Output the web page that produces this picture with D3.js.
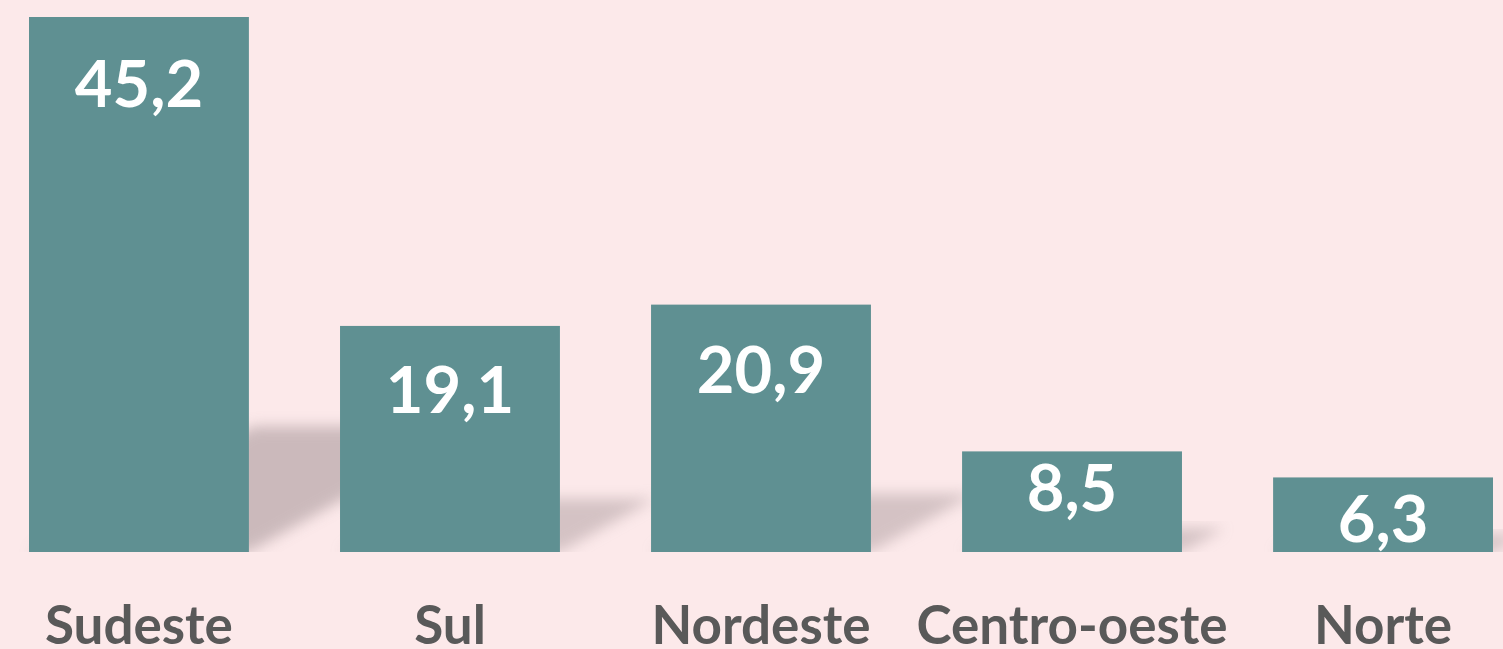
<!DOCTYPE html>
<html>
<head>
<meta charset="utf-8">
<script src="https://cdn.jsdelivr.net/npm/d3@7"></script>
<style>
  html, body { margin: 0; padding: 0; background: #fce9ea; }
  svg { display: block; }
</style>
</head>
<body>
<svg id="chart" width="1503" height="649"></svg>
<script>
// Data
const categories = ["Sudeste", "Sul", "Nordeste", "Centro-oeste", "Norte"];
const values = [45.2, 19.1, 20.9, 8.5, 6.3];
const valueLabels = ["45,2", "19,1", "20,9", "8,5", "6,3"];

// Layout (styles, not data)
const W = 1503, H = 649;
const baseY = 552, topY = 17;
const labelDrop = [90, 87, 88, 60, 65]; // baseline distance from bar top
const barColor = "#5f9092";
const shadowColor = "#bfaeb0";

const svg = d3.select("#chart");
svg.append("rect").attr("width", W).attr("height", H).attr("fill", "#fce9ea");

const x = d3.scaleBand().domain(categories).range([29, 1493]).paddingInner(0.293).paddingOuter(0);
const y = d3.scaleLinear().domain([0, 45.2]).range([baseY, topY]);

const defs = svg.append("defs");
defs.append("filter").attr("id", "blur").attr("x", "-20%").attr("y", "-30%").attr("width", "140%").attr("height", "160%")
  .append("feGaussianBlur").attr("stdDeviation", 7);
defs.append("clipPath").attr("id", "clipBase")
  .append("rect").attr("x", 0).attr("y", 0).attr("width", W).attr("height", baseY);

const data = categories.map((c, i) => ({ c, v: values[i], lbl: valueLabels[i], i }));

// Perspective shadows
const sh = svg.append("g").attr("clip-path", "url(#clipBase)");
sh.selectAll("path").data(data).join("path")
  .attr("d", d => {
    const x0 = x(d.c), x1 = x0 + x.bandwidth();
    const h = baseY - y(d.v);
    const sh = h * 0.235, dx = h * 0.42;
    return `M${x0},${baseY} L${x1},${baseY} L${x1 + dx},${baseY - sh} L${x0 + dx},${baseY - sh} Z`;
  })
  .attr("fill", shadowColor)
  .attr("opacity", d => d.v > 30 ? 0.8 : 0.65)
  .attr("filter", "url(#blur)");

// Bars
svg.append("g").selectAll("rect").data(data).join("rect")
  .attr("x", d => x(d.c))
  .attr("y", d => y(d.v))
  .attr("width", x.bandwidth())
  .attr("height", d => baseY - y(d.v))
  .attr("fill", barColor);

// Value labels
svg.append("g").selectAll("text").data(data).join("text")
  .attr("x", d => x(d.c) + x.bandwidth() / 2)
  .attr("y", d => y(d.v) + labelDrop[d.i])
  .attr("text-anchor", "middle")
  .attr("font-family", "Lato, 'Open Sans', sans-serif")
  .attr("font-weight", "bold")
  .attr("font-size", 65)
  .attr("fill", "#ffffff")
  .text(d => d.lbl);

// Category labels
svg.append("g").selectAll("text").data(data).join("text")
  .attr("x", d => x(d.c) + x.bandwidth() / 2)
  .attr("y", 644)
  .attr("text-anchor", "middle")
  .attr("font-family", "Lato, 'Open Sans', sans-serif")
  .attr("font-weight", "bold")
  .attr("font-size", 53)
  .attr("fill", "#595959")
  .text(d => d.c);
</script>
</body>
</html>
